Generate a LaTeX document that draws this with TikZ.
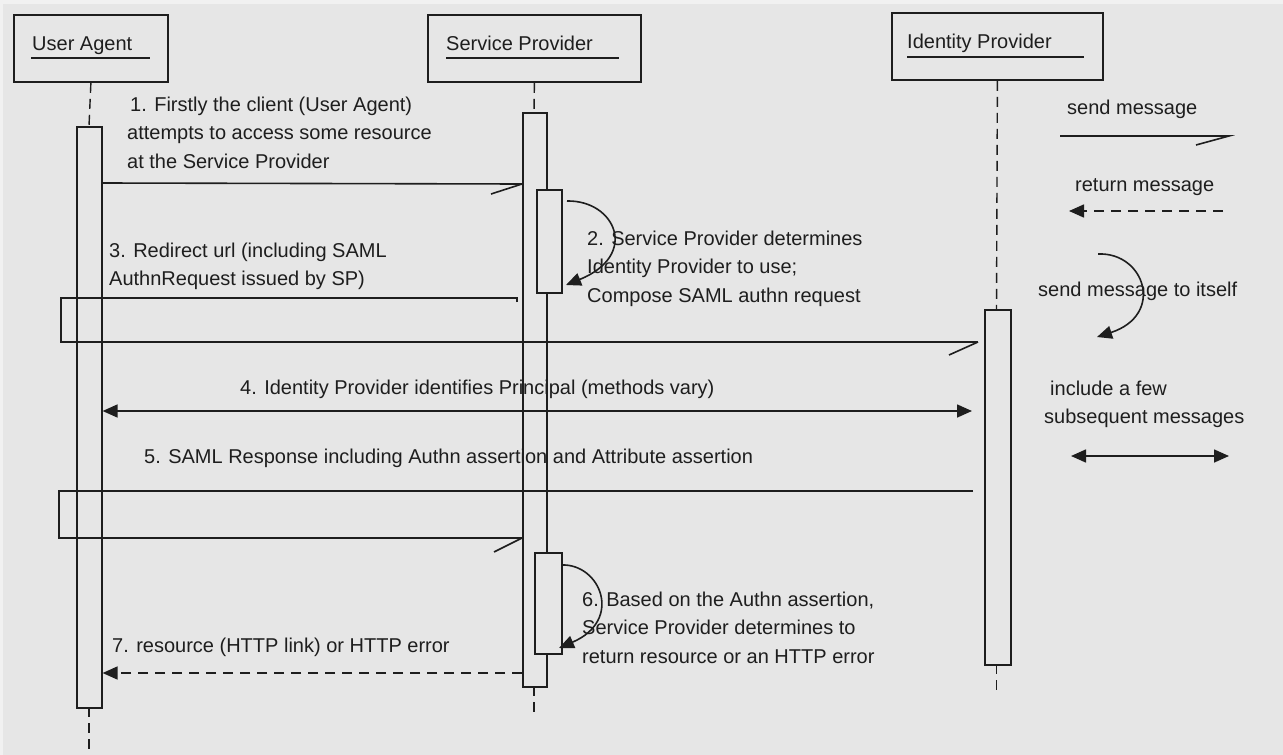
\documentclass[tikz,border=0pt]{standalone}
\usepackage{fontspec}
\setmainfont{Liberation Sans}
\usetikzlibrary{arrows.meta}
\definecolor{bg}{HTML}{E6E6E6}
\definecolor{bgl}{HTML}{F1F1F1}
\definecolor{ink}{HTML}{1E1E1E}
\begin{document}
\begin{tikzpicture}[x=1pt,y=-1pt,
  every node/.style={inner sep=0pt, font=\fontsize{20}{28.5}\selectfont, text=ink},
  ln/.style={line width=1.6pt, draw=ink},
  actor/.style={draw=ink, line width=1.8pt, fill=bg, anchor=north west},
  actbar/.style={draw=ink, line width=1.6pt, fill=bg, anchor=north west},
  life/.style={line width=1.4pt, draw=ink, dash pattern=on 10pt off 6pt},
  ret/.style={line width=1.6pt, draw=ink, dash pattern=on 10pt off 7pt},
  tip/.style={-{Triangle[length=15pt,width=13pt]}},
  tips/.style={{Triangle[length=15pt,width=13pt]}-{Triangle[length=15pt,width=13pt]}},
  lbl/.style={anchor=base west, align=left}]
\useasboundingbox (0,0) rectangle (1283,755);
\fill[bgl] (0,0) rectangle (1283,755);
\fill[bg] (3,4) rectangle (1283,755);

% actors
\node[actor, minimum width=154pt, minimum height=67pt] (ua) at (13,14) {};
\node[actor, minimum width=213pt, minimum height=67pt] (sp) at (427,14) {};
\node[actor, minimum width=211pt, minimum height=67pt] (idp) at (891,12) {};
\node[lbl] (uat) at (32,50) {User Agent};
\node[lbl] (spt) at (446,50) {Service Provider};
\node[lbl] (idpt) at (907,48) {Identity Provider};
\draw[line width=1.5pt, draw=ink] (31,58) -- (150,58);
\draw[line width=1.5pt, draw=ink] (446,58) -- (619,58);
\draw[line width=1.5pt, draw=ink] (907,57) -- (1084,57);

% lifelines
\draw[life] (ua.south) -- (89,126);
\draw[life] (89,707) -- (89,755);
\draw[life] (sp.south) -- (534,112);
\draw[life] (534,686) -- (534,712);
\draw[life] (idp.south) -- (996.5,309);
\draw[life] (996.5,664) -- (996.5,692);

% activation bars
\node[actbar, minimum width=25pt, minimum height=581pt] (uab) at (76,126) {};
\node[actbar, minimum width=24pt, minimum height=574pt] (spb) at (522,112) {};
\node[actbar, minimum width=25pt, minimum height=103pt] (spb1) at (536,189) {};
\node[actbar, minimum width=27pt, minimum height=101pt] (spb2) at (534,552) {};
\node[actbar, minimum width=26pt, minimum height=355pt] (idb) at (984,309) {};

% 1
\node[lbl] (t1) at (127,168) {\hspace{3pt}1. Firstly the client (User Agent)\\attempts to access some resource\\at the Service Provider};
\draw[ln] (uab.east |- 0,183) -- (spb.west |- 0,184) coordinate (m1e);
\draw[ln] (m1e) -- ++(-31,10);

% 2
\draw[ln, tip] (567,201) .. controls (615,200) and (640,255) .. (566,285);
\node[lbl] (t2) at (587,302) {2. Service Provider determines\\Identity Provider to use;\\Compose SAML authn request};

% 3
\node[lbl] (t3) at (109,285.5) {3. Redirect url (including SAML\\AuthnRequest issued by SP)};
\draw[ln] (517,302) -- (517,298) -- (61,298) -- (61,342) -- (978,342) coordinate (m3e);
\draw[ln] (m3e) -- ++(-29,13);

% 4
\node[lbl] (t4) at (240,394) {4. Identity Provider identifies Principal (methods vary)};
\draw[ln, tips] (uab.east |- 0,411) -- ([xshift=-12pt]idb.west |- 0,411);

% 5
\node[lbl] (t5) at (144,463) {5. SAML Response including Authn assertion and Attribute assertion};
\draw[ln] ([xshift=-11pt]idb.west |- 0,491) -- (59,491) -- (59,538) -- (spb.west |- 0,538) coordinate (m5e);
\draw[ln] (m5e) -- ++(-28,14);

% 6
\draw[ln, tip] (561,565) .. controls (600,563) and (624,620) .. (559,648);
\node[lbl] (t6) at (582,663) {6. Based on the Authn assertion,\\Service Provider determines to\\return resource or an HTTP error};

% 7
\node[lbl] (t7) at (112,652) {7. resource (HTTP link) or HTTP error};
\draw[ret, tip] (spb.west |- 0,673) -- (uab.east |- 0,673);

% legend
\node[lbl] (lg1) at (1067,114) {send message};
\coordinate (s1) at (1060,136);
\coordinate (s2) at (1229,136);
\draw[ln] (s1) -- (s2) -- ++(-33,9);
\node[lbl] (lg2) at (1075,191) {return message};
\coordinate (r1) at (1223,211);
\coordinate (r2) at (1069,211);
\draw[ret, tip] (r1) -- (r2);
\coordinate (a1) at (1098,254);
\coordinate (a2) at (1097,337);
\draw[ln, tip] (a1) .. controls (1145,252) and (1165,315) .. (a2);
\node[lbl] (lg3) at (1038,296) {send message to itself};
\node[lbl] (lg4) at (1044,423.5) {\hspace{6pt}include a few\\subsequent messages};
\coordinate (b1) at (1071,456);
\coordinate (b2) at (1229,456);
\draw[ln, tips] (b1) -- (b2);
\end{tikzpicture}
\end{document}
